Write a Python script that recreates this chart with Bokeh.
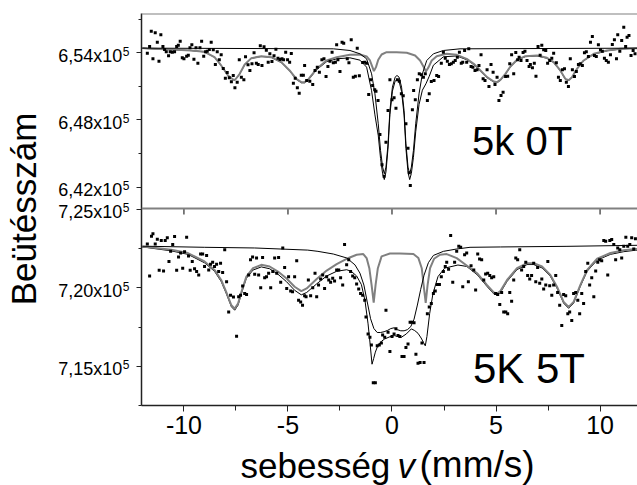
from math import pi
from bokeh.plotting import figure
from bokeh.models import Range1d, LinearAxis, FixedTicker, Span, Label, CustomJSTickFormatter
from bokeh.layouts import row, column
from bokeh.embed import file_html
from bokeh.resources import INLINE
from bokeh.core.properties import value

FONT = "Liberation Sans"

# ---------------- data ----------------
X_TICKS = [-10, -5, 0, 5, 10]
X_TICK_LABELS = ["-10", "-5", "0", "5", "10"]
X_MINOR = [-7.5, -2.5, 2.5, 7.5]

TOP_YTICKS = [642000, 648000, 654000]
TOP_YTICK_LABELS = ["6,42x10", "6,48x10", "6,54x10"]
TOP_YMINOR = [645000, 651000, 657000]
BOT_YTICKS = [715000, 720000, 725000]
BOT_YTICK_LABELS = ["7,15x10", "7,20x10", "7,25x10"]
BOT_YMINOR = [712500, 717500, 722500]
TICK_EXPONENT = "5"

Y_TITLE = "Beütésszám"
X_TITLE_PARTS = ["sebesség", "v", "(mm/s)"]
TOP_LABEL = "5k 0T"
BOT_LABEL = "5K 5T"

# 5 K, 0 T : measured points (velocity mm/s, counts)
TOP_DOTS = [
    (-11.76, 653968), (-11.65, 654564), (-11.57, 655934), (-11.49, 653461), (-11.38, 655785),
    (-11.28, 654951), (-11.20, 653252), (-11.11, 655607), (-11.01, 654564), (-10.93, 654295),
    (-10.85, 654087), (-10.74, 653729), (-10.66, 654087), (-10.56, 654057), (-10.45, 654087),
    (-10.35, 654564), (-10.27, 654683), (-10.18, 655040), (-10.08, 653550), (-10.00, 653461),
    (-9.87, 653699), (-9.79, 653789), (-9.71, 654444), (-9.62, 654713), (-9.52, 653431),
    (-9.42, 654444), (-9.33, 653074), (-9.23, 654444), (-9.15, 655040), (-9.05, 653699),
    (-8.96, 654087), (-8.88, 654146), (-8.78, 654295), (-8.69, 654951), (-8.59, 654266),
    (-8.49, 652954), (-8.40, 654087), (-8.30, 653372), (-8.21, 653819), (-8.11, 652597),
    (-8.01, 651733), (-7.92, 652239), (-7.82, 651762), (-7.72, 651405), (-7.63, 651971),
    (-7.55, 650868), (-7.44, 651375), (-7.34, 653372), (-7.24, 651822), (-7.12, 651584),
    (-7.04, 653640), (-6.92, 652925), (-6.83, 652418), (-6.73, 653014), (-6.63, 653999),
    (-6.52, 653074), (-6.43, 652954), (-6.33, 654623), (-6.25, 652865), (-6.15, 654534),
    (-6.04, 654236), (-5.95, 653163), (-5.87, 653908), (-5.77, 653223), (-5.67, 653729),
    (-5.58, 654325), (-5.48, 653521), (-5.38, 653401), (-5.29, 653461), (-5.21, 653372),
    (-5.11, 654057), (-5.02, 653372), (-4.92, 653163), (-4.84, 653938), (-4.74, 651286),
    (-4.65, 651733), (-4.55, 650868), (-4.46, 650392), (-4.36, 652001), (-4.26, 652001),
    (-4.20, 652865), (-4.10, 651524), (-3.95, 651450), (-3.81, 651166), (-3.70, 652418),
    (-3.59, 652716), (-3.49, 652269), (-3.37, 653372), (-3.27, 653461), (-3.17, 651882),
    (-3.08, 652776), (-2.98, 653252), (-2.88, 654057), (-2.82, 653103), (-2.72, 653163),
    (-2.66, 654713), (-2.60, 653372), (-2.50, 652329), (-2.40, 654951), (-2.32, 654862),
    (-2.15, 653461), (-2.07, 653103), (-1.96, 655160), (-1.86, 651822), (-1.76, 651912),
    (-1.67, 654415), (-1.57, 651941), (-1.41, 653133), (-1.31, 653163), (-1.22, 653074),
    (-1.12, 650272), (-1.03, 651584), (-0.93, 651077), (-0.83, 650690), (-0.77, 650570),
    (-0.67, 649736), (-0.58, 646696), (-0.48, 643985), (-0.38, 642971), (-0.29, 646011),
    (-0.19, 648842), (-0.10, 651584), (0.00, 649796), (0.10, 649974), (0.19, 649051),
    (0.26, 651584), (0.35, 651464), (0.45, 650332), (0.54, 650153), (0.67, 647650),
    (0.77, 645475), (0.83, 643269), (0.88, 642137), (0.98, 648902), (1.04, 650630),
    (1.12, 649796), (1.22, 651584), (1.31, 652120), (1.41, 652031), (1.51, 651822),
    (1.60, 652120), (1.70, 649736), (1.79, 650332), (1.89, 651435), (2.02, 651524),
    (2.15, 651971), (2.24, 651882), (2.37, 653074), (2.47, 654057), (2.56, 653521),
    (2.66, 653252), (2.76, 652954), (2.85, 653014), (2.95, 653163), (3.04, 653312),
    (3.14, 653610), (3.24, 654057), (3.33, 653074), (3.40, 653163), (3.49, 654206),
    (3.59, 653163), (3.69, 654355), (3.80, 652776), (3.89, 652716), (3.99, 652418),
    (4.09, 652478), (4.18, 652865), (4.28, 653819), (4.38, 651673), (4.47, 651524),
    (4.57, 652478), (4.66, 650988), (4.76, 652954), (4.86, 652269), (4.95, 651166),
    (5.05, 651822), (5.14, 649736), (5.24, 650183), (5.34, 650481), (5.46, 651882),
    (5.56, 651912), (5.66, 653014), (5.75, 653819), (5.85, 652120), (5.95, 654027),
    (6.04, 653372), (6.11, 653610), (6.20, 653312), (6.30, 654027), (6.39, 654146),
    (6.49, 653312), (6.59, 652776), (6.65, 652954), (6.75, 652656), (6.84, 653074),
    (6.92, 651912), (7.02, 654564), (7.12, 653789), (7.20, 654683), (7.29, 654266),
    (7.39, 654206), (7.48, 653074), (7.58, 653312), (7.68, 653521), (7.77, 653968),
    (7.90, 653103), (8.00, 651822), (8.09, 651524), (8.19, 652478), (8.29, 652567),
    (8.38, 651375), (8.48, 650988), (8.57, 653461), (8.67, 652478), (8.77, 651882),
    (8.86, 652329), (8.96, 652954), (9.05, 653014), (9.15, 652865), (9.25, 653997),
    (9.34, 654087), (9.44, 653670), (9.54, 654951), (9.63, 655458), (9.73, 653759),
    (9.82, 653670), (9.92, 654713), (10.02, 654266), (10.11, 654146), (10.21, 653521),
    (10.30, 653312), (10.40, 653163), (10.50, 653819), (10.59, 654742), (10.69, 655160),
    (10.79, 653461), (10.85, 655607), (10.95, 654146), (11.04, 655100), (11.14, 656292),
    (11.23, 654564), (11.30, 655398), (11.39, 655547), (11.49, 653759), (11.59, 654206),
    (11.68, 653908),
]

# 5 K, 0 T : fitted sextet component (grey)
TOP_SEXTET = [
    (-12.0, 654420), (-11.76, 654385), (-10.61, 654295), (-9.65, 654206), (-9.01, 654087),
    (-8.53, 653610), (-8.21, 652865), (-7.88, 651971), (-7.64, 651613), (-7.58, 651560),
    (-7.53, 651613), (-7.32, 652120), (-7.08, 652954), (-6.76, 653521), (-6.28, 653699),
    (-5.80, 653610), (-5.32, 653163), (-4.92, 652418), (-4.60, 651673), (-4.36, 651375),
    (-4.20, 651375), (-4.04, 651584), (-3.94, 651822), (-3.62, 652567), (-3.14, 653312),
    (-2.66, 653610), (-2.02, 653819), (-1.54, 653849), (-1.22, 653670), (-1.06, 653312),
    (-0.94, 652716), (-0.87, 652358), (-0.77, 652716), (-0.66, 653372), (-0.50, 653849),
    (-0.26, 654057), (0.22, 654057), (0.71, 653997), (1.11, 653759), (1.35, 653312),
    (1.51, 652776), (1.63, 652329), (1.76, 652716), (1.91, 653312), (2.15, 653699),
    (2.63, 653908), (3.11, 653819), (3.59, 653461), (3.93, 653014), (4.25, 652418),
    (4.57, 651822), (4.89, 651435), (5.05, 651375), (5.21, 651584), (5.45, 652120),
    (5.69, 652776), (6.01, 653372), (6.41, 653699), (6.97, 653759), (7.45, 653550),
    (7.77, 653163), (8.09, 652418), (8.33, 651673), (8.49, 651554), (8.65, 651822),
    (8.89, 652567), (9.21, 653312), (9.70, 653908), (10.34, 654206), (10.98, 654355),
    (11.70, 654415), (12.0, 654420),
]

# 5 K, 0 T : fitted doublet component (black)
TOP_DOUBLET = [
    (-12.0, 654415), (-2.82, 654355), (-2.02, 654206), (-1.54, 653908), (-1.22, 653461),
    (-0.98, 652120), (-0.82, 650332), (-0.66, 647650), (-0.55, 645266), (-0.45, 643776),
    (-0.37, 643180), (-0.29, 643776), (-0.19, 645862), (-0.10, 648842), (0.02, 650928),
    (0.15, 651822), (0.24, 651971), (0.34, 651822), (0.46, 650928), (0.58, 648842),
    (0.67, 645862), (0.77, 643776), (0.85, 643180), (0.93, 643776), (1.03, 645266),
    (1.14, 647650), (1.30, 650332), (1.46, 652120), (1.67, 653312), (1.99, 653908),
    (2.47, 654206), (3.27, 654355), (12.0, 654415),
]

# 5 K, 0 T : total fit (black)
TOP_TOTAL = [
    (-12.0, 654400), (-11.76, 654380), (-10.61, 654285), (-9.65, 654195), (-9.01, 654075),
    (-8.53, 653595), (-8.21, 652850), (-7.88, 651955), (-7.64, 651595), (-7.53, 651595),
    (-7.32, 652101), (-7.08, 652934), (-6.76, 653499), (-6.28, 653674), (-5.80, 653581),
    (-5.32, 653128), (-4.92, 652376), (-4.60, 651624), (-4.36, 651320), (-4.20, 651317),
    (-4.04, 651521), (-3.94, 651756), (-3.62, 652488), (-3.14, 653206), (-2.66, 653461),
    (-2.02, 653550), (-1.54, 653342), (-1.22, 652716), (-0.98, 650605), (-0.82, 648447),
    (-0.66, 646607), (-0.55, 644551), (-0.45, 643181), (-0.37, 642665), (-0.29, 643351),
    (-0.19, 645487), (-0.10, 648484), (0.02, 650570), (0.15, 651464), (0.24, 651613),
    (0.34, 651457), (0.46, 650543), (0.58, 648437), (0.67, 645444), (0.77, 643311),
    (0.85, 642665), (0.93, 643211), (1.03, 644651), (1.14, 646935), (1.30, 649367),
    (1.46, 650655), (1.63, 651226), (1.79, 651900), (1.99, 652893), (2.47, 653641),
    (3.11, 653720), (3.59, 653380), (3.93, 652950), (4.25, 652360), (4.57, 651770),
    (4.89, 651385), (5.05, 651325), (5.21, 651535), (5.45, 652072), (5.69, 652730),
    (6.01, 653328), (6.41, 653657), (6.97, 653720), (7.45, 653512), (7.77, 653127),
    (8.09, 652384), (8.33, 651640), (8.49, 651522), (8.65, 651790), (8.89, 652536),
    (9.21, 653283), (9.70, 653881), (10.34, 654182), (10.98, 654333), (11.70, 654395),
    (12.0, 654405),
]

# 5 K, 5 T : measured points
BOT_DOTS = [
    (-11.76, 722793), (-11.65, 720753), (-11.56, 723286), (-11.49, 723437), (-11.38, 722793),
    (-11.28, 723093), (-11.19, 721118), (-11.09, 723007), (-10.98, 721075), (-10.90, 723007),
    (-10.80, 723179), (-10.72, 721676), (-10.64, 722320), (-10.54, 722750), (-10.45, 723265),
    (-10.35, 721118), (-10.26, 721955), (-10.16, 722213), (-10.06, 721247), (-9.97, 722299),
    (-9.87, 723222), (-9.78, 722020), (-9.70, 721118), (-9.60, 721676), (-9.49, 721204),
    (-9.39, 721032), (-9.29, 720817), (-9.20, 722148), (-9.10, 722148), (-9.01, 721354),
    (-8.91, 722063), (-8.81, 721139), (-8.72, 721504), (-8.62, 721633), (-8.53, 721354),
    (-8.43, 721504), (-8.33, 721032), (-8.24, 721569), (-8.14, 720968), (-8.04, 722427),
    (-7.95, 720388), (-7.85, 718456), (-7.76, 719529), (-7.62, 719420), (-7.47, 716910),
    (-7.37, 719422), (-7.28, 719529), (-7.18, 720109), (-7.08, 719637), (-6.99, 719572),
    (-6.89, 720817), (-6.80, 721784), (-6.70, 721955), (-6.60, 720860), (-6.51, 721891),
    (-6.41, 720817), (-6.31, 720001), (-6.22, 721934), (-6.12, 720646), (-6.03, 720710),
    (-5.93, 720925), (-5.83, 720001), (-5.73, 721032), (-5.64, 721891), (-5.54, 720925),
    (-5.45, 721934), (-5.35, 720345), (-5.25, 722535), (-5.16, 721290), (-5.06, 719959),
    (-4.97, 720710), (-4.87, 719787), (-4.78, 719744), (-4.68, 720710), (-4.58, 721719),
    (-4.49, 719207), (-4.39, 719100), (-4.30, 718885), (-4.20, 719486), (-4.13, 719422),
    (-4.02, 720495), (-3.91, 719486), (-3.81, 720001), (-3.70, 720925), (-3.62, 719422),
    (-3.53, 720173), (-3.43, 720560), (-3.33, 720817), (-3.24, 719959), (-3.14, 720710),
    (-3.04, 720495), (-2.95, 720345), (-2.85, 720603), (-2.76, 720431), (-2.66, 721139),
    (-2.56, 721139), (-2.47, 720646), (-2.37, 720173), (-2.28, 722750), (-2.18, 721461),
    (-2.08, 721784), (-1.99, 721032), (-1.89, 720753), (-1.79, 720646), (-1.70, 720238),
    (-1.60, 719916), (-1.51, 719637), (-1.41, 719529), (-1.31, 719207), (-1.25, 718134),
    (-1.15, 717060), (-1.06, 716845), (-0.99, 716352), (-0.90, 713947), (-0.80, 713947),
    (-0.71, 716309), (-0.61, 716352), (-0.51, 716480), (-0.45, 716996), (-0.35, 716845),
    (-0.29, 718563), (-0.19, 717167), (-0.10, 715943), (0.00, 716888), (0.10, 717060),
    (0.19, 717382), (0.29, 716953), (0.38, 716888), (0.48, 715622), (0.58, 715622),
    (0.67, 716201), (0.77, 716416), (0.87, 717811), (0.96, 717811), (1.06, 717769),
    (1.15, 715772), (1.25, 715192), (1.35, 715235), (1.44, 716480), (1.54, 715235),
    (1.70, 718348), (1.79, 718778), (1.89, 718992), (1.99, 719637), (2.08, 719787),
    (2.18, 720216), (2.28, 720216), (2.37, 720710), (2.47, 721032), (2.56, 721354),
    (2.63, 721633), (2.72, 721182), (2.82, 723329), (2.92, 720345), (3.01, 721633),
    (3.11, 722320), (3.21, 722642), (3.30, 722578), (3.40, 720066), (3.49, 722106),
    (3.59, 722213), (3.67, 720388), (3.80, 721400), (3.93, 721139), (4.02, 719851),
    (4.12, 722148), (4.21, 721826), (4.31, 721784), (4.41, 720495), (4.50, 720882),
    (4.60, 720925), (4.70, 720774), (4.79, 720646), (4.89, 720710), (4.98, 719637),
    (5.08, 719572), (5.18, 718928), (5.27, 719701), (5.37, 718456), (5.47, 718456),
    (5.56, 718348), (5.66, 719701), (5.75, 719143), (5.85, 720495), (5.95, 721891),
    (6.04, 721784), (6.14, 722428), (6.23, 721139), (6.33, 721354), (6.43, 721633),
    (6.52, 720774), (6.62, 720560), (6.71, 720774), (6.81, 721569), (6.91, 720388),
    (7.00, 721290), (7.10, 720281), (7.20, 720560), (7.29, 719916), (7.39, 720173),
    (7.49, 721676), (7.58, 720130), (7.68, 719529), (7.77, 720173), (7.87, 720774),
    (7.96, 719701), (8.06, 718885), (8.16, 717597), (8.25, 719572), (8.35, 719486),
    (8.45, 718348), (8.54, 718456), (8.64, 717919), (8.73, 719637), (8.83, 719701),
    (8.93, 719207), (9.02, 718348), (9.12, 719637), (9.21, 718992), (9.31, 721032),
    (9.41, 721569), (9.50, 720173), (9.60, 720646), (9.70, 719422), (9.79, 721075),
    (9.89, 721633), (9.98, 721784), (10.08, 721719), (10.18, 723007), (10.27, 722964),
    (10.37, 720817), (10.47, 723007), (10.56, 723072), (10.66, 722750), (10.75, 721784),
    (10.85, 722535), (10.95, 722428), (11.04, 721891), (11.14, 722642), (11.24, 723222),
    (11.33, 722642), (11.43, 722750), (11.52, 723179), (11.62, 722470), (11.70, 723115),
]

# 5 K, 5 T : fitted sextet component (grey)
BOT_SEXTET = [
    (-12.0, 722620), (-11.76, 722600), (-10.61, 722428), (-9.81, 722213), (-9.01, 721676),
    (-8.53, 721139), (-8.21, 720495), (-7.97, 719744), (-7.72, 718885), (-7.56, 718670),
    (-7.40, 718992), (-7.21, 719851), (-7.00, 720710), (-6.68, 721247), (-6.28, 721461),
    (-5.88, 721354), (-5.48, 721032), (-5.08, 720603), (-4.68, 720066), (-4.36, 719787),
    (-4.10, 719959), (-3.62, 720560), (-3.14, 721096), (-2.66, 721504), (-2.18, 721848),
    (-1.70, 722106), (-1.38, 722148), (-1.22, 721891), (-1.09, 721247), (-0.98, 720173),
    (-0.88, 719050), (-0.79, 720173), (-0.68, 721247), (-0.50, 722000), (-0.10, 722180),
    (0.38, 722180), (1.03, 722148), (1.27, 721891), (1.43, 721247), (1.52, 720173),
    (1.62, 719035), (1.71, 720173), (1.83, 721247), (2.02, 721848), (2.31, 722106),
    (2.63, 722148), (3.11, 721891), (3.59, 721420), (4.09, 720925), (4.57, 720173),
    (4.89, 719701), (5.05, 719637), (5.21, 719787), (5.53, 720495), (6.01, 721247),
    (6.49, 721569), (6.81, 721569), (7.21, 721354), (7.61, 720817), (7.93, 720066),
    (8.25, 719100), (8.49, 718778), (8.73, 719100), (9.05, 720173), (9.38, 721139),
    (9.86, 721848), (10.50, 722213), (11.14, 722385), (11.70, 722470), (12.0, 722500),
]

# 5 K, 5 T : second fitted component (black)
BOT_COMP = [
    (-12.0, 722650), (-9.0, 722578), (-6.6, 722535), (-4.05, 722400), (-3.56, 722320),
    (-2.82, 722150), (-2.18, 721900), (-1.78, 721460), (-1.54, 720930), (-1.35, 720170),
    (-1.19, 719100), (-1.03, 718030), (-0.87, 717400), (-0.71, 717150), (-0.55, 717150),
    (-0.38, 717200), (-0.22, 717280), (-0.06, 717400), (0.10, 717450), (0.26, 717330),
    (0.42, 717260), (0.58, 717260), (0.74, 717330), (0.90, 717520), (1.06, 718000),
    (1.22, 718900), (1.38, 719900), (1.54, 720800), (1.75, 721600), (1.99, 722060),
    (2.47, 722320), (3.11, 722470), (3.75, 722578), (5.21, 722600), (8.41, 722640),
    (12.0, 722710),
]

# 5 K, 5 T : total fit (black)
BOT_TOTAL = [
    (-12.0, 722580), (-11.76, 722560), (-10.61, 722350), (-9.81, 722130), (-9.01, 721590),
    (-8.53, 721050), (-8.21, 720400), (-7.97, 719650), (-7.72, 718790), (-7.56, 718570),
    (-7.40, 718890), (-7.21, 719750), (-7.00, 720600), (-6.68, 721130), (-6.28, 721330),
    (-5.88, 721210), (-5.48, 720860), (-5.08, 720400), (-4.68, 719840), (-4.36, 719550),
    (-4.10, 719700), (-3.62, 720250), (-3.14, 720750), (-2.66, 721050), (-2.18, 721150),
    (-1.96, 721050), (-1.70, 720750), (-1.47, 720200), (-1.30, 719200), (-1.15, 717700),
    (-1.05, 716400), (-0.96, 715130), (-0.88, 715500), (-0.80, 715900), (-0.67, 716350),
    (-0.50, 716600), (-0.35, 716740), (-0.10, 716880), (0.13, 716950), (0.30, 716880),
    (0.45, 716845), (0.69, 717060), (0.93, 717380), (1.09, 717275), (1.25, 717100),
    (1.40, 716800), (1.52, 716500), (1.60, 716300), (1.68, 716900), (1.81, 718350),
    (1.97, 719640), (2.21, 720710), (2.53, 721250), (3.17, 721450), (3.59, 721360),
    (4.09, 720835), (4.57, 720080), (4.89, 719610), (5.05, 719545), (5.21, 719695),
    (5.53, 720405), (6.01, 721157), (6.49, 721480), (6.81, 721480), (7.21, 721265),
    (7.61, 720730), (7.93, 719980), (8.25, 719015), (8.49, 718690), (8.73, 719015),
    (9.05, 720085), (9.38, 721052), (9.86, 721760), (10.50, 722128), (11.14, 722300),
    (11.70, 722390), (12.0, 722420),
]

# ---------------- ranges / layout ----------------
X_START, X_END = -12.04, 11.8
TOP_LO, TOP_HI = 640078, 657513
BOT_LO, BOT_HI = 712500, 725050
FRAME_H = 392          # virtual units == pixels of the frame height
SPLIT = 197            # height of the lower panel
BORDER_TOP, BORDER_BOTTOM = 13, 40
PLOT_H = BORDER_TOP + FRAME_H + BORDER_BOTTOM
LEFT_W = 133
MAIN_W = 504
FOOT_H = 40

GREY = "#808080"
DARK = "#222222"


def xy(pairs):
    return [a for a, _ in pairs], [b for _, b in pairs]


top_span = TOP_HI - TOP_LO
bot_span = BOT_HI - BOT_LO


def v_top(val):
    return round(SPLIT + (val - TOP_LO) / top_span * (FRAME_H - SPLIT), 3)


def v_bot(val):
    return round((val - BOT_LO) / bot_span * SPLIT, 3)


def bare(fig):
    fig.outline_line_color = None
    fig.background_fill_color = "white"
    fig.border_fill_color = "white"
    fig.xgrid.grid_line_color = None
    fig.ygrid.grid_line_color = None


# ---------- main plotting area ----------
p = figure(width=MAIN_W, height=PLOT_H,
           x_range=Range1d(X_START, X_END), y_range=Range1d(0, FRAME_H),
           output_backend="svg", toolbar_location=None,
           x_axis_location=None, y_axis_location=None,
           min_border_left=8, min_border_right=0,
           min_border_top=BORDER_TOP, min_border_bottom=BORDER_BOTTOM)
bare(p)
p.extra_y_ranges = {
    "top": Range1d(TOP_LO - top_span * SPLIT / (FRAME_H - SPLIT), TOP_HI),
    "bot": Range1d(BOT_LO, BOT_HI + bot_span * (FRAME_H - SPLIT) / SPLIT),
}

major = [v_bot(t) for t in BOT_YTICKS] + [v_top(t) for t in TOP_YTICKS]
minor = [v_bot(t) for t in BOT_YMINOR] + [v_top(t) for t in TOP_YMINOR]

yaxis = LinearAxis(ticker=FixedTicker(ticks=major, minor_ticks=minor),
                   formatter=CustomJSTickFormatter(code="return ''"))
yaxis.axis_line_color = DARK
yaxis.axis_line_width = 1.5
yaxis.major_tick_in = 0
yaxis.major_tick_out = 5
yaxis.minor_tick_in = 0
yaxis.minor_tick_out = 3
yaxis.major_tick_line_color = DARK
yaxis.minor_tick_line_color = DARK
yaxis.major_label_standoff = 0
yaxis.major_label_text_font_size = "1px"
p.add_layout(yaxis, "left")

xaxis = LinearAxis(ticker=FixedTicker(ticks=X_TICKS, minor_ticks=X_MINOR),
                   major_label_overrides=dict(zip(X_TICKS, X_TICK_LABELS)))
xaxis.axis_line_color = DARK
xaxis.axis_line_width = 1.5
xaxis.major_tick_in = 0
xaxis.major_tick_out = 6
xaxis.minor_tick_in = 0
xaxis.minor_tick_out = 5
xaxis.major_tick_line_color = DARK
xaxis.minor_tick_line_color = DARK
xaxis.major_label_standoff = 4
xaxis.major_label_text_font = FONT
xaxis.major_label_text_font_size = "25px"
xaxis.major_label_text_color = "black"
p.add_layout(xaxis, "below")

# panel borders
p.add_layout(Span(location=FRAME_H, dimension="width", line_color=GREY, line_width=2))
p.add_layout(Span(location=SPLIT, dimension="width", line_color=GREY, line_width=2))
# tick marks on the middle border (upper panel's x axis)
p.segment(x0=X_TICKS, y0=[SPLIT] * len(X_TICKS), x1=X_TICKS, y1=[SPLIT - 6] * len(X_TICKS),
          line_color="black", line_width=1)

# ---- upper panel: 5 K, 0 T
tx, ty = xy(TOP_TOTAL)
p.line(tx, ty, y_range_name="top", line_color="black", line_width=1)
sx, sy = xy(TOP_SEXTET)
p.line(sx, sy, y_range_name="top", line_color=GREY, line_width=2)
dx, dy = xy(TOP_DOUBLET)
p.line(dx, dy, y_range_name="top", line_color="black", line_width=1)
px_, py_ = xy(TOP_DOTS)
p.scatter(px_, py_, y_range_name="top", marker="square", size=3,
          fill_color="black", line_color=None)

# ---- lower panel: 5 K, 5 T
tx, ty = xy(BOT_TOTAL)
p.line(tx, ty, y_range_name="bot", line_color="black", line_width=1)
sx, sy = xy(BOT_SEXTET)
p.line(sx, sy, y_range_name="bot", line_color=GREY, line_width=2)
cx, cy = xy(BOT_COMP)
p.line(cx, cy, y_range_name="bot", line_color="black", line_width=1)
bx, by = xy(BOT_DOTS)
p.scatter(bx, by, y_range_name="bot", marker="square", size=3,
          fill_color="black", line_color=None)

# panel labels
p.add_layout(Label(x=3.85, y=646070, y_range_name="top", text=TOP_LABEL,
                   text_font=FONT, text_font_size="40px", text_color="black",
                   text_align="left", text_baseline="middle"))
p.add_layout(Label(x=3.89, y=714832, y_range_name="bot", text=BOT_LABEL,
                   text_font=FONT, text_font_size="42px", text_color="black",
                   text_align="left", text_baseline="middle"))

# ---------- left strip: y tick labels and y title ----------
lf = figure(width=LEFT_W, height=PLOT_H,
            x_range=Range1d(0, LEFT_W), y_range=Range1d(0, FRAME_H),
            output_backend="svg", toolbar_location=None,
            x_axis_location=None, y_axis_location=None,
            min_border_left=0, min_border_right=0,
            min_border_top=BORDER_TOP, min_border_bottom=BORDER_BOTTOM)
bare(lf)

tick_pos = [v_top(t) for t in TOP_YTICKS] + [v_bot(t) for t in BOT_YTICKS]
tick_txt = TOP_YTICK_LABELS + BOT_YTICK_LABELS
lf.text(x=[121.7] * len(tick_pos), y=[v - 3.2 for v in tick_pos], text=tick_txt,
        text_font=value(FONT), text_font_size="18px", text_color="black",
        text_align="right", text_baseline="middle")
lf.text(x=[122.3] * len(tick_pos), y=[v + 1.5 for v in tick_pos],
        text=[TICK_EXPONENT] * len(tick_pos),
        text_font=value(FONT), text_font_size="12px", text_color="black",
        text_align="left", text_baseline="middle")
lf.text(x=[23], y=[196.5], text=[Y_TITLE], angle=pi / 2,
        text_font=value(FONT), text_font_size="35px", text_color="black",
        text_align="center", text_baseline="middle")

# ---------- footer: x title ----------
ff = figure(width=LEFT_W + MAIN_W, height=FOOT_H,
            x_range=Range1d(0, LEFT_W + MAIN_W), y_range=Range1d(0, FOOT_H),
            output_backend="svg", toolbar_location=None,
            x_axis_location=None, y_axis_location=None, min_border=0)
bare(ff)
ff.text(x=[240], y=[0.6], text=[X_TITLE_PARTS[0]],
        text_font=value(FONT), text_font_size="35px", text_color="black",
        text_align="left", text_baseline="bottom")
ff.text(x=[397], y=[0.6], text=[X_TITLE_PARTS[1]],
        text_font=value(FONT), text_font_size="35px", text_font_style="italic",
        text_color="black", text_align="left", text_baseline="bottom")
ff.text(x=[419], y=[0.4], text=[X_TITLE_PARTS[2]],
        text_font=value(FONT), text_font_size="37px", text_color="black",
        text_align="left", text_baseline="bottom")

layout = column(row(lf, p, spacing=0), ff, spacing=0)
open("out.html", "w").write(file_html(layout, INLINE))
